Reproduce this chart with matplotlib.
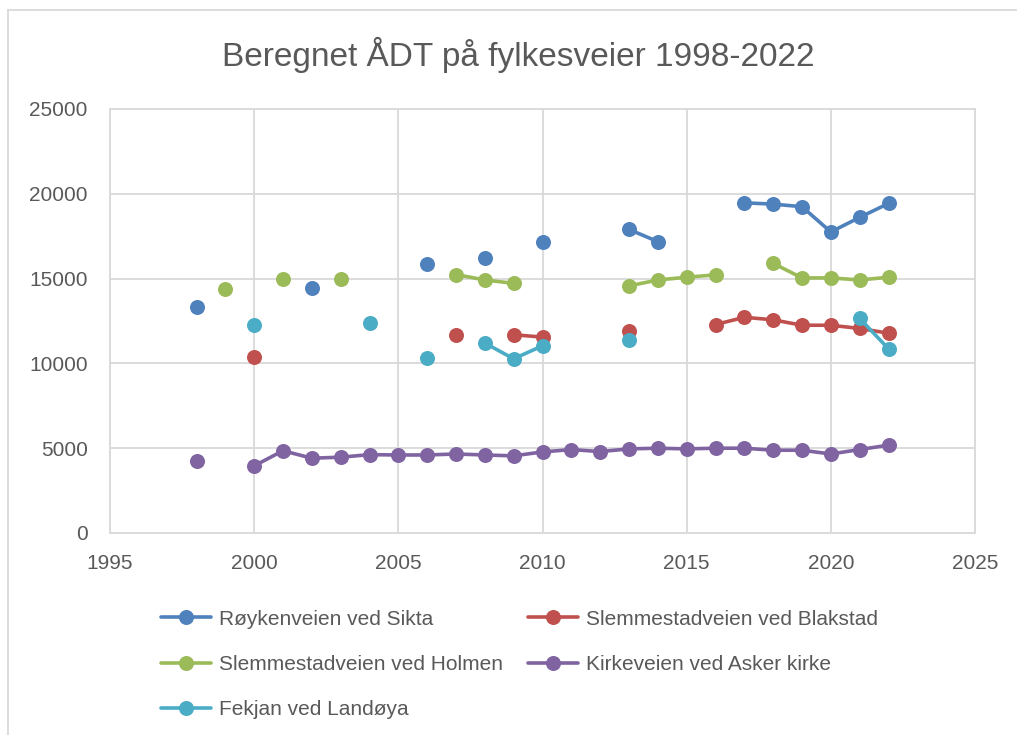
import numpy as np
import matplotlib
matplotlib.use("Agg")
import matplotlib.pyplot as plt
from matplotlib.lines import Line2D

plt.rcParams['font.family'] = ['Liberation Sans', 'DejaVu Sans']

nan = np.nan
years = list(range(1998, 2023))

royken = [13350, nan, nan, nan, 14470, nan, nan, nan, 15860, nan, 16240, nan, 17160,
          nan, nan, 17900, 17180, nan, nan, 19470, 19390, 19240, 17750, 18610, 19430]
blakstad = [nan, nan, 10370, nan, nan, nan, nan, nan, nan, 11690, nan, 11690, 11550,
            nan, nan, 11920, nan, nan, 12290, 12720, 12570, 12250, 12250, 12060, 11780]
holmen = [nan, 14410, nan, 15000, nan, 15000, nan, nan, nan, 15240, 14920, 14720, nan,
          nan, nan, 14570, 14920, 15080, 15220, nan, 15900, 15040, 15040, 14920, 15080]
kirkeveien = [4220, nan, 3960, 4850, 4410, 4470, 4620, 4600, 4600, 4660, 4600, 4550, 4780,
              4920, 4800, 4960, 5000, 4960, 5000, 5000, 4880, 4880, 4660, 4920, 5180]
fekjan = [nan, nan, 12235, nan, nan, nan, 12370, nan, 10300, nan, 11200, 10270, 11040,
          nan, nan, 11370, nan, nan, nan, nan, nan, nan, nan, 12650, 10860]

series_names = ["Røykenveien ved Sikta", "Slemmestadveien ved Blakstad",
                "Slemmestadveien ved Holmen", "Kirkeveien ved Asker kirke",
                "Fekjan ved Landøya"]
series_values = [royken, blakstad, holmen, kirkeveien, fekjan]
colors = ["#4F81BD", "#C0504D", "#9BBB59", "#8064A2", "#4BACC6"]

x_ticks = [1995, 2000, 2005, 2010, 2015, 2020, 2025]
y_ticks = [0, 5000, 10000, 15000, 20000, 25000]

W, H = 1017, 735
fig = plt.figure(figsize=(W / 100, H / 100), dpi=100)
ax = fig.add_axes([110 / W, 1 - 533 / H, (975 - 110) / W, (533 - 109) / H])

handles = []
for name, vals, c in zip(series_names, series_values, colors):
    h, = ax.plot(years, np.array(vals, dtype=float), color=c, lw=2.6,
                 marker='o', markersize=10.8, markeredgewidth=0,
                 solid_capstyle='round', label=name, zorder=3)
    handles.append(h)

ax.set_xlim(1995, 2025)
ax.set_ylim(0, 25000)
ax.set_xticks(x_ticks)
ax.set_yticks(y_ticks)
ax.grid(True, color="#D9D9D9", lw=1.3, zorder=0)
for s in ax.spines.values():
    s.set_color("#D9D9D9")
    s.set_linewidth(1.3)
ax.tick_params(length=0, labelsize=15, labelcolor="#595959")
ax.tick_params(axis='y', pad=16)
ax.tick_params(axis='x', pad=15)

fig.text(518 / W, 1 - 55 / H, "Beregnet ÅDT på fylkesveier 1998-2022",
         ha='center', va='center', fontsize=24, color="#595959")

order = [0, 2, 4, 1, 3]
leg = fig.legend([handles[i] for i in order], [series_names[i] for i in order],
                 ncol=2, loc='upper left', bbox_to_anchor=(142 / W, 1 - 591 / H),
                 frameon=False, fontsize=15, handlelength=2.4, handletextpad=0.4,
                 columnspacing=1.18, labelspacing=1.25, labelcolor="#595959")

# outer chart border (top and left visible)
fig.add_artist(Line2D([8 / W, 1.0], [1 - 10 / H, 1 - 10 / H], color="#D9D9D9", lw=1.3,
                      transform=fig.transFigure))
fig.add_artist(Line2D([8 / W, 8 / W], [0, 1 - 10 / H], color="#D9D9D9", lw=1.3,
                      transform=fig.transFigure))

fig.savefig("out.png", dpi=100)
